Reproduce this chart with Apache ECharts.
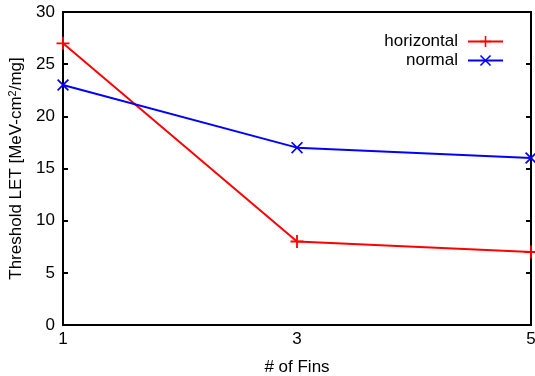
<!DOCTYPE html>
<html><head><meta charset="utf-8">
<script src="https://cdn.jsdelivr.net/npm/echarts@6/dist/echarts.min.js"></script>
<style>html,body{margin:0;padding:0;background:#fff}#c{width:535px;height:376px}</style>
</head><body><div id="c"></div>
<script>
const fins = [1, 3, 5];
const horizontal = [27, 8, 7];
const normal = [23, 17, 16];
const yTicks = [0, 5, 10, 15, 20, 25, 30];

const plusPath = 'path://M4.3,0 H5.7 V4.3 H10 V5.7 H5.7 V10 H4.3 V5.7 H0 V4.3 H4.3 Z';
const crossPath = 'path://M0,1 L1,0 L5,4 L9,0 L10,1 L6,5 L10,9 L9,10 L5,6 L1,10 L0,9 L4,5 Z';
const font = 'Liberation Sans, Arial, sans-serif';
const fs = 17;

const chart = echarts.init(document.getElementById('c'), null, {renderer: 'canvas'});
chart.setOption({
  animation: false,
  textStyle: {fontFamily: font},
  grid: {left: 63, right: 4, top: 12, bottom: 51, show: true, borderColor: '#000', borderWidth: 2,
    backgroundColor: 'transparent', containLabel: false, outerBoundsMode: 'none'},
  legend: {
    right: 31, top: 33, orient: 'vertical', align: 'right', itemGap: 2,
    itemWidth: 35, itemHeight: 14, padding: 0,
    textStyle: {fontFamily: font, fontSize: fs, color: '#000', lineHeight: 17, padding: [0, 5, 0, 0]},
    data: ['horizontal', 'normal']
  },
  xAxis: {
    type: 'value', min: 1, max: 5, interval: 2,
    name: '# of Fins', nameLocation: 'middle', nameGap: 34,
    nameTextStyle: {fontFamily: font, fontSize: fs, color: '#000'},
    axisLine: {lineStyle: {color: '#000', width: 2}},
    axisTick: {show: false},
    splitLine: {show: false},
    axisLabel: {fontFamily: font, fontSize: fs, color: '#000', margin: 6,
      formatter: v => fins.includes(v) ? String(v) : ''}
  },
  yAxis: [{
    type: 'value', min: yTicks[0], max: yTicks[yTicks.length - 1], interval: 5,
    name: '{a|Threshold LET [MeV-cm}{s|2}{a|/mg]}', nameLocation: 'middle', nameGap: 32,
    nameTextStyle: {rich: {
      a: {fontFamily: font, fontSize: fs, color: '#000'},
      s: {fontFamily: font, fontSize: 11, color: '#000', verticalAlign: 'top', padding: [0, 0, 7, 0]}
    }},
    axisLine: {show: true, lineStyle: {color: '#000', width: 2}},
    axisTick: {show: true, inside: true, length: 5, lineStyle: {color: '#000', width: 2}},
    splitLine: {show: false},
    axisLabel: {fontFamily: font, fontSize: fs, color: '#000', margin: 8}
  }, {
    type: 'value', position: 'right', min: yTicks[0], max: yTicks[yTicks.length - 1], interval: 5,
    axisLine: {show: true, lineStyle: {color: '#000', width: 2}},
    axisTick: {show: true, inside: true, length: 5, lineStyle: {color: '#000', width: 2}},
    splitLine: {show: false},
    axisLabel: {show: false}
  }],
  series: [{
    name: 'horizontal', type: 'line', data: fins.map((f, i) => [f, horizontal[i]]),
    color: '#ff0000', lineStyle: {width: 2, color: '#ff0000'},
    symbol: plusPath, symbolSize: 13, showAllSymbol: true,
    itemStyle: {color: '#ff0000'}
  }, {
    name: 'normal', type: 'line', data: fins.map((f, i) => [f, normal[i]]),
    color: '#0000ff', lineStyle: {width: 2, color: '#0000ff'},
    symbol: crossPath, symbolSize: 12, showAllSymbol: true,
    itemStyle: {color: '#0000ff'}
  }]
});
</script></body></html>
